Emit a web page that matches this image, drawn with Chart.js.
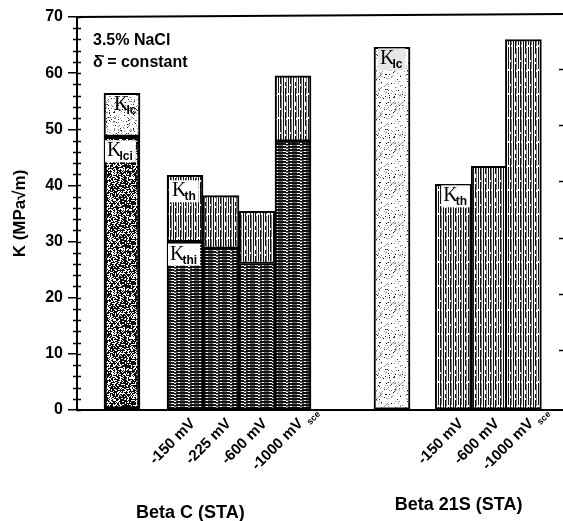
<!DOCTYPE html>
<html><head><meta charset="utf-8">
<script src="https://cdn.jsdelivr.net/npm/chart.js@4.4.1/dist/chart.umd.min.js"></script>
<style>html,body{margin:0;padding:0;background:#fff;}</style>
</head><body>
<canvas id="c" width="563" height="521"></canvas>
<script>
// ---------------- data ----------------
const groupNames = ['Beta C (STA)', 'Beta 21S (STA)'];
const barPositions = [1.25, 3, 4, 5, 6, 8.75, 10.45, 11.45, 12.4];
const tickLabels = ['', '-150 mV', '-225 mV', '-600 mV', '-1000 mV', '', '-150 mV', '-600 mV', '-1000 mV'];
const betaC_Kc = 56.4;
const betaC_Kci = 48.75;
const betaC_KthMax = [41.8, 38.2, 35.4, 59.5];
const betaC_KthInit = [30.0, 28.8, 26.1, 47.9];
const beta21S_Kc = 64.6;
const beta21S_Kth = [40.2, 43.4, 66.0];
const yMin = 0, yMax = 70, yStep = 10;

// ---------------- textures ----------------
const mainCtx = document.getElementById('c').getContext('2d');
function hash(i) { const s = Math.sin(i * 12.9898 + 78.233) * 43758.5453; return s - Math.floor(s); }
function makePattern(w, h, draw) {
  const c = document.createElement('canvas'); c.width = w; c.height = h;
  const g = c.getContext('2d'); g.fillStyle = '#fff'; g.fillRect(0, 0, w, h); draw(g, w, h);
  return mainCtx.createPattern(c, 'repeat');
}
const vertPattern = makePattern(10, 24, (g, w, h) => {
  g.fillStyle = '#111';
  for (let x = 0; x < w; x += 2.5) g.fillRect(Math.round(x), 0, 1, h);
  g.fillStyle = '#777';
  for (let x = 1; x < w; x += 5) g.fillRect(x, 0, 1, h);
  g.fillStyle = '#fff';
  for (let k = 0; k < 14; k++) g.fillRect(Math.floor(hash(k) * w), Math.floor(hash(k + 50) * h), 1, 2);
});
const horizPattern = makePattern(14, 3, (g, w, h) => {
  g.fillStyle = '#111';
  g.fillRect(0, 0, w, 1);
  g.fillRect(0, 2, 6, 1); g.fillRect(8, 2, 6, 1);
  g.fillStyle = '#666'; g.fillRect(0, 1, w, 1);
  g.fillStyle = '#fff'; g.fillRect(3, 1, 3, 1); g.fillRect(10, 1, 2, 1);
});
const darkStipple = makePattern(40, 40, (g, w, h) => {
  g.fillStyle = '#0a0a0a'; g.fillRect(0, 0, w, h);
  g.fillStyle = '#fff';
  for (let i = 0; i < w * h; i++) { if (hash(i + 7) > 0.62) g.fillRect(i % w, Math.floor(i / w), 1, 1); }
});
const lightStipple = makePattern(40, 40, (g, w, h) => {
  for (let i = 0; i < w * h; i++) {
    const r = hash(i + 300);
    if (r > 0.86) { g.fillStyle = r > 0.95 ? '#222' : '#888'; g.fillRect(i % w, Math.floor(i / w), 1, 1); }
  }
});
const lightHatch = makePattern(40, 40, (g, w, h) => {
  for (let i = 0; i < w * h; i++) {
    const r = hash(i + 900);
    if (r > 0.88) { g.fillStyle = r > 0.96 ? '#222' : '#999'; g.fillRect(i % w, Math.floor(i / w), 1, 1); }
  }
  g.strokeStyle = '#666'; g.lineWidth = 0.8;
  for (let k = 0; k < 9; k++) {
    const x0 = hash(k + 70) * w, y0 = hash(k + 90) * h;
    g.beginPath(); g.moveTo(x0, y0); g.lineTo(x0 + 4, y0 - 4); g.stroke();
  }
});

// ---------------- datasets ----------------
function ds(label, data, fill, bw) {
  return { label, data, backgroundColor: fill, borderColor: '#000', borderWidth: bw || 2,
           borderSkipped: false, barThickness: 36, grouped: false };
}
const datasets = [
  ds('Beta C Kci', [{ x: barPositions[0], y: [0, betaC_Kci] }], darkStipple, 3),
  ds('Beta C Kc', [{ x: barPositions[0], y: [betaC_Kci, betaC_Kc] }], lightStipple),
  ds('Beta C Kth init', betaC_KthInit.map((v, i) => ({ x: barPositions[1 + i], y: [0, v] })), horizPattern),
  ds('Kth max', betaC_KthMax.map((v, i) => ({ x: barPositions[1 + i], y: [betaC_KthInit[i], v] }))
      .concat(beta21S_Kth.map((v, i) => ({ x: barPositions[6 + i], y: [0, v] }))), vertPattern),
  ds('Beta 21S Kc', [{ x: barPositions[5], y: [0, beta21S_Kc] }], lightHatch)
];

// ---------------- decoration plugin ----------------
const FONT = 'Liberation Sans, Arial, sans-serif';
function drawK(ctx, x, base, sub, bg) {
  ctx.font = '20px "Liberation Serif", serif';
  const kw = ctx.measureText('K').width;
  ctx.font = 'bold 12px ' + FONT;
  const sw = ctx.measureText(sub).width;
  if (bg) { ctx.fillStyle = bg; ctx.fillRect(x - 2, base - 16, kw + sw + 3, 22); }
  ctx.fillStyle = '#000';
  ctx.font = '20px "Liberation Serif", serif';
  ctx.textAlign = 'left'; ctx.textBaseline = 'alphabetic';
  ctx.fillText('K', x, base);
  ctx.font = 'bold 12px ' + FONT;
  ctx.fillText(sub, x + kw - 2, base + 4);
}
const decor = {
  id: 'decor',
  afterDraw(chart) {
    const { ctx, chartArea: a, scales: { x, y } } = chart;
    ctx.save();
    ctx.strokeStyle = '#000';
    ctx.lineWidth = 2;
    ctx.beginPath(); ctx.moveTo(a.left - 1, a.top); ctx.lineTo(a.right, a.top - 3); ctx.stroke();
    ctx.lineWidth = 1.5;
    for (let v = yMin; v <= yMax; v += 2) {
      const py = Math.round(y.getPixelForValue(v)) + 0.5;
      ctx.beginPath(); ctx.moveTo(v % 10 === 0 ? a.left : a.left - 4, py); ctx.lineTo(a.left + 4, py); ctx.stroke();
    }
    for (let v = 10; v < yMax; v += 10) {
      const py = Math.round(y.getPixelForValue(v)) - 3.5;
      ctx.beginPath(); ctx.moveTo(a.right - 4, py); ctx.lineTo(a.right, py); ctx.stroke();
    }
    // annotation text
    ctx.fillStyle = '#000'; ctx.textAlign = 'left'; ctx.textBaseline = 'alphabetic';
    ctx.font = 'bold 16px ' + FONT;
    ctx.fillText('3.5% NaCl', a.left + 16, a.top + 28);
    ctx.fillText('\u03B4\u0307 = constant', a.left + 16, a.top + 50);
    // bar labels
    const left = i => x.getPixelForValue(barPositions[i]) - 18;
    drawK(ctx, left(0) + 10, y.getPixelForValue(betaC_Kc) + 17, 'Ic', null);
    drawK(ctx, left(0) + 3, y.getPixelForValue(betaC_Kci) + 20, 'Ici', '#fff');
    drawK(ctx, left(1) + 5, y.getPixelForValue(betaC_KthMax[0]) + 21, 'th', '#fff');
    drawK(ctx, left(1) + 3, y.getPixelForValue(betaC_KthInit[0]) + 18, 'thi', '#fff');
    drawK(ctx, left(5) + 6, y.getPixelForValue(beta21S_Kc) + 17, 'Ic', '#e6e6e6');
    drawK(ctx, left(6) + 8, y.getPixelForValue(beta21S_Kth[0]) + 17, 'th', '#fff');
    // "sce" subscripts on the -1000 mV tick labels
    [4, 8].forEach(i => {
      const px = x.getPixelForValue(barPositions[i]) + 8, py = a.bottom + 6;
      ctx.save(); ctx.translate(px, py); ctx.rotate(-Math.PI / 4);
      ctx.font = 'bold 9px ' + FONT; ctx.textAlign = 'left'; ctx.textBaseline = 'top';
      ctx.fillText('sce', 0, 6);
      ctx.restore();
    });
    // group names
    ctx.font = 'bold 18px ' + FONT; ctx.textAlign = 'center'; ctx.textBaseline = 'middle';
    ctx.fillText(groupNames[0], x.getPixelForValue(3.15), 513);
    ctx.fillText(groupNames[1], x.getPixelForValue(10.6), 505);
    ctx.restore();
  }
};

new Chart(document.getElementById('c'), {
  type: 'bar',
  data: { datasets },
  plugins: [decor],
  options: {
    responsive: false, animation: false, devicePixelRatio: 1,
    layout: { padding: { top: 17, right: 0, left: 0, bottom: 0 } },
    plugins: { legend: { display: false }, tooltip: { enabled: false } },
    scales: {
      x: {
        type: 'linear', min: 0, max: 13.5, offset: false,
        afterBuildTicks: s => { s.ticks = barPositions.map(v => ({ value: v })); },
        afterFit: s => { s.height = 111; },
        grid: { display: false, drawTicks: false, offset: false },
        border: { display: true, color: '#000', width: 2 },
        ticks: { autoSkip: false, minRotation: 45, maxRotation: 45, labelOffset: 8, padding: 5, color: '#000',
                 font: { family: FONT, size: 15, weight: 'bold' }, callback: (v, i) => tickLabels[i] }
      },
      y: {
        min: yMin, max: yMax,
        afterFit: s => { s.width = 77; },
        ticks: { stepSize: yStep, color: '#000', padding: 5, font: { family: FONT, size: 16, weight: 'bold' } },
        grid: { drawOnChartArea: false, color: '#000', lineWidth: 1.5, tickLength: 9 },
        border: { color: '#000', width: 2 },
        title: { display: true, text: 'K (MPa\u221Am)', color: '#000', padding: { top: 10, bottom: 0 },
                 font: { family: FONT, size: 17, weight: 'bold' } }
      }
    }
  }
});
</script>
</body></html>
